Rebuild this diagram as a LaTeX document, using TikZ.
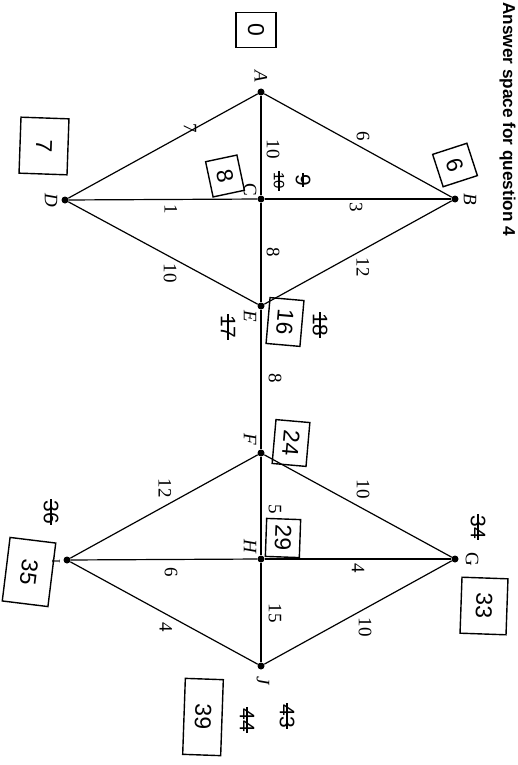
\documentclass[tikz,border=0pt]{standalone}
\usepackage{fontspec}
\setmainfont{Liberation Serif}
\newfontfamily\handfont{Liberation Sans}
\newfontfamily\headfont{Liberation Sans}
\begin{document}
\begin{tikzpicture}[x=1pt,y=-1pt,
  vtx/.style={circle,fill=black,inner sep=0pt,minimum size=7pt},
  edge/.style={line width=1.2pt,black},
  vlbl/.style={rotate=-90,font=\fontsize{19}{21}\selectfont\itshape,inner sep=0pt},
  vlblup/.style={rotate=-90,font=\fontsize{19}{21}\selectfont,inner sep=0pt},
  wt/.style={rotate=-90,font=\fontsize{19}{21}\selectfont,inner sep=0pt},
  hbox/.style={draw,line width=1.4pt,font=\handfont\fontsize{23}{25}\selectfont,inner sep=0pt},
  hnum/.style={font=\handfont\fontsize{21}{23}\selectfont,inner sep=1pt},
  strike/.style={line width=1.1pt}
]
\useasboundingbox (0,0) rectangle (518,765);
\fill[white] (0,0) rectangle (518,765);

% heading
\node[rotate=-90,anchor=base west,inner sep=0pt,font=\headfont\bfseries\fontsize{17.2}{19}\selectfont] (head) at (503,2) {Answer space for question 4};

% vertices
\node[vtx] (A) at (261,92) {};
\node[vtx] (B) at (455,199) {};
\node[vtx] (C) at (261,199) {};
\node[vtx] (D) at (65,200) {};
\node[vtx] (E) at (261,306) {};
\node[vtx] (F) at (261,453) {};
\node[vtx] (G) at (455,559) {};
\node[vtx] (H) at (261,559) {};
\node[vtx] (I) at (67,560) {};
\node[vtx] (J) at (261,666) {};

% edges
\draw[edge] (A) -- (B);
\draw[edge] (A) -- (C);
\draw[edge] (A) -- (D);
\draw[edge] (C) -- (B);
\draw[edge] (C) -- (D);
\draw[edge] (C) -- (E);
\draw[edge] (B) -- (E);
\draw[edge] (D) -- (E);
\draw[edge] (E) -- (F);
\draw[edge] (F) -- (G);
\draw[edge] (F) -- (H);
\draw[edge] (F) -- (I);
\draw[edge] (H) -- (G);
\draw[edge] (H) -- (I);
\draw[edge] (H) -- (J);
\draw[edge] (G) -- (J);
\draw[edge] (I) -- (J);

% vertex labels
\node[vlbl] (lA) at (261,76) {A};
\node[vlbl] (lB) at (470,199) {B};
\node[vlblup] (lC) at (250,190) {C};
\node[vlbl] (lD) at (51,200) {D};
\node[vlbl] (lE) at (250,316) {E};
\node[vlbl] (lF) at (250,439) {F};
\node[vlblup] (lG) at (472,559) {G};
\node[vlbl] (lH) at (250,546) {H};
\node[vlblup,font=\fontsize{12}{14}\selectfont] (lI) at (56,561) {I};
\node[vlbl] (lJ) at (263,681) {J};

% weights
\node[wt] (wAB) at (363,136) {6};
\node[wt] (wAC) at (273,149) {10};
\node[wt] (wAD) at (190,128) {7};
\node[wt] (wCB) at (356,207) {3};
\node[wt] (wCD) at (171,209) {1};
\node[wt] (wCE) at (273,252) {8};
\node[wt] (wBE) at (363,267) {12};
\node[wt] (wDE) at (170,273) {10};
\node[wt] (wEF) at (275,378) {8};
\node[wt] (wFG) at (363,489) {10};
\node[wt] (wFH) at (275,509) {5};
\node[wt] (wFI) at (165,488) {12};
\node[wt] (wHG) at (358,568) {4};
\node[wt] (wHI) at (171,572) {6};
\node[wt] (wHJ) at (275,613) {15};
\node[wt] (wGJ) at (365,627) {10};
\node[wt] (wIJ) at (166,627) {4};

% handwritten working: boxed final values
\node[hbox,rotate=-90,minimum width=35pt,minimum height=40pt] (bA) at (256,30) {0};
\node[hbox,rotate=-72,minimum width=34pt,minimum height=36pt] (bB) at (455,165) {6};
\node[hbox,rotate=-92,minimum width=56pt,minimum height=48pt] (bD) at (44,146) {7};
\node[hbox,rotate=-78,minimum width=36pt,minimum height=32pt] (bC) at (225,176) {8};
\node[hbox,rotate=-95,minimum width=46pt,minimum height=34pt] (bE) at (285,322) {16};
\node[hbox,rotate=-95,minimum width=44pt,minimum height=34pt] (bF) at (291,443) {24};
\node[hbox,rotate=-92,minimum width=38pt,minimum height=34pt] (bH) at (283,538) {29};
\node[hbox,rotate=-92,minimum width=56pt,minimum height=46pt] (bG) at (484,606) {33};
\node[hbox,rotate=-97,minimum width=64pt,minimum height=46pt] (bI) at (29,572) {35};
\node[hbox,rotate=-92,minimum width=76pt,minimum height=38pt] (bJ) at (203,717) {39};

% handwritten working: crossed-out values
\node[hnum,rotate=-90] (cC1) at (303,180) {9};
\draw[strike] (cC1.west) -- (cC1.east);
\node[hnum,rotate=-90,font=\handfont\fontsize{15}{17}\selectfont] (cC2) at (279,181) {10};
\draw[strike] (cC2.west) -- (cC2.east);
\node[hnum,rotate=-90] (cE1) at (320,325) {18};
\draw[strike] (cE1.west) -- (cE1.east);
\node[hnum,rotate=-90] (cE2) at (228,327) {17};
\draw[strike] (cE2.west) -- (cE2.east);
\node[hnum,rotate=-90] (cG) at (478,527) {34};
\draw[strike] (cG.west) -- (cG.east);
\node[hnum,rotate=-90] (cI) at (51,512) {36};
\draw[strike] (cI.west) -- (cI.east);
\node[hnum,rotate=-90] (cJ1) at (287,716) {43};
\draw[strike] (cJ1.west) -- (cJ1.east);
\node[hnum,rotate=-90] (cJ2) at (247,720) {44};
\draw[strike] (cJ2.west) -- (cJ2.east);
\end{tikzpicture}
\end{document}
